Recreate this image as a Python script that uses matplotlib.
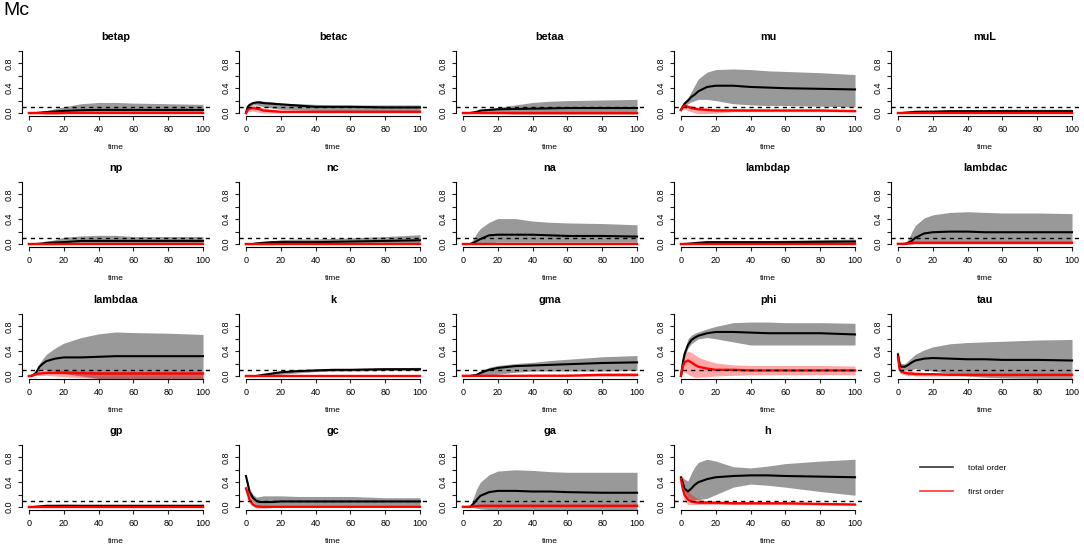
import numpy as np
import matplotlib
matplotlib.use("Agg")
import matplotlib.pyplot as plt
from matplotlib.lines import Line2D

plt.rcParams['font.family'] = ['Liberation Sans', 'DejaVu Sans']

# time grid shared by all panels
time = [0, 1, 2, 4, 6, 8, 10, 15, 20, 30, 40, 50, 60, 80, 100]

# T = total order (mean, lo, hi), F = first order (mean, lo, hi)
betap_T = [0, 0, 0, 0, 0.005, 0.01, 0.015, 0.025, 0.035, 0.045, 0.05, 0.05, 0.05, 0.05, 0.05]
betap_Tlo = [0, 0, 0, -0.005, -0.01, -0.015, -0.02, -0.02, -0.01, 0, 0, 0, 0, 0, 0]
betap_Thi = [0, 0, 0, 0.01, 0.02, 0.03, 0.04, 0.07, 0.1, 0.15, 0.17, 0.17, 0.16, 0.15, 0.14]
betap_F = [0.003] * 15
betap_Flo = [-0.005] * 15
betap_Fhi = [0.01] * 15

betac_T = [0, 0.1, 0.13, 0.16, 0.17, 0.17, 0.16, 0.15, 0.14, 0.12, 0.1, 0.1, 0.1, 0.09, 0.09]
betac_Tlo = [0, 0.08, 0.1, 0.13, 0.13, 0.12, 0.1, 0.08, 0.06, 0.05, 0.04, 0.04, 0.04, 0.04, 0.04]
betac_Thi = [0, 0.12, 0.15, 0.18, 0.2, 0.2, 0.19, 0.18, 0.16, 0.15, 0.14, 0.13, 0.13, 0.13, 0.13]
betac_F = [0, 0.05, 0.07, 0.08, 0.07, 0.06, 0.04, 0.03, 0.02, 0.02, 0.02, 0.02, 0.02, 0.02, 0.02]
betac_Flo = [0, 0.02, 0.03, 0.03, 0.02, 0.01, 0, 0, 0, 0, 0, 0, 0, 0, 0]
betac_Fhi = [0, 0.08, 0.1, 0.12, 0.12, 0.1, 0.08, 0.06, 0.04, 0.03, 0.03, 0.03, 0.03, 0.03, 0.03]

betaa_T = [0, 0, 0, 0, 0.01, 0.02, 0.04, 0.05, 0.06, 0.065, 0.07, 0.075, 0.08, 0.08, 0.08]
betaa_Tlo = [0, 0, 0, 0, -0.005, -0.005, -0.01, -0.01, -0.01, -0.02, -0.02, -0.02, -0.02, -0.02, -0.02]
betaa_Thi = [0, 0, 0, 0.01, 0.02, 0.03, 0.05, 0.07, 0.09, 0.13, 0.17, 0.19, 0.2, 0.21, 0.22]
betaa_F = [0.003] * 15
betaa_Flo = [-0.005] * 15
betaa_Fhi = [0.01] * 15

mu_T = [0.05, 0.1, 0.15, 0.2, 0.26, 0.3, 0.35, 0.42, 0.44, 0.44, 0.42, 0.41, 0.4, 0.39, 0.38]
mu_Tlo = [0.05, 0.08, 0.12, 0.15, 0.18, 0.2, 0.22, 0.22, 0.2, 0.15, 0.13, 0.12, 0.12, 0.11, 0.1]
mu_Thi = [0.05, 0.12, 0.18, 0.25, 0.35, 0.45, 0.55, 0.66, 0.7, 0.71, 0.7, 0.68, 0.67, 0.65, 0.62]
mu_F = [0.05, 0.1, 0.12, 0.1, 0.08, 0.07, 0.06, 0.05, 0.04, 0.04, 0.04, 0.04, 0.04, 0.04, 0.03]
mu_Flo = [0.05, 0.06, 0.06, 0.04, 0.02, 0.0, -0.01, -0.01, 0.0, 0.02, 0.02, 0.02, 0.02, 0.02, 0.02]
mu_Fhi = [0.05, 0.12, 0.14, 0.13, 0.12, 0.1, 0.09, 0.08, 0.07, 0.07, 0.07, 0.06, 0.06, 0.06, 0.06]

muL_T = [0, 0, 0, 0.005, 0.01, 0.015, 0.02, 0.02, 0.02, 0.03, 0.03, 0.03, 0.03, 0.03, 0.03]
muL_Tlo = [0, 0, 0, -0.005, -0.005, -0.005, -0.005, -0.005, 0, 0, 0, 0, 0, 0, 0]
muL_Thi = [0, 0, 0, 0.01, 0.02, 0.03, 0.04, 0.05, 0.05, 0.05, 0.05, 0.05, 0.06, 0.06, 0.06]
muL_F = [0.003] * 15
muL_Flo = [-0.005] * 15
muL_Fhi = [0.01] * 15

np_T = [0, 0, 0, 0, 0.005, 0.01, 0.02, 0.025, 0.03, 0.05, 0.05, 0.05, 0.05, 0.05, 0.05]
np_Tlo = [0, 0, 0, 0, -0.005, -0.01, -0.01, -0.01, -0.005, 0, 0, 0, 0, 0, 0]
np_Thi = [0, 0, 0, 0.005, 0.01, 0.02, 0.04, 0.07, 0.11, 0.13, 0.14, 0.14, 0.12, 0.12, 0.12]
np_F = [0.003] * 15
np_Flo = [-0.005] * 15
np_Fhi = [0.01] * 15

nc_T = [0, 0, 0, 0, 0.01, 0.015, 0.02, 0.03, 0.03, 0.03, 0.03, 0.035, 0.04, 0.05, 0.06]
nc_Tlo = [0, 0, 0, 0, -0.005, -0.01, -0.01, -0.01, 0, 0, 0, 0, 0, 0, 0]
nc_Thi = [0, 0, 0, 0.01, 0.02, 0.03, 0.04, 0.05, 0.07, 0.08, 0.08, 0.09, 0.1, 0.12, 0.15]
nc_F = [0.003] * 15
nc_Flo = [-0.005] * 15
nc_Fhi = [0.01] * 15

na_T = [0, 0, 0, 0, 0.02, 0.05, 0.08, 0.14, 0.15, 0.15, 0.15, 0.14, 0.13, 0.13, 0.12]
na_Tlo = [0, 0, 0, 0, 0, 0, 0.01, 0.02, 0.03, 0.03, 0.03, 0.03, 0.03, 0.03, 0.03]
na_Thi = [0, 0, 0, 0.01, 0.08, 0.18, 0.25, 0.35, 0.41, 0.41, 0.37, 0.35, 0.34, 0.33, 0.31]
na_F = [0.003] * 15
na_Flo = [-0.005] * 15
na_Fhi = [0.01] * 15

lambdap_T = [0, 0, 0, 0.005, 0.01, 0.015, 0.02, 0.03, 0.03, 0.03, 0.03, 0.03, 0.03, 0.035, 0.04]
lambdap_Tlo = [0, 0, 0, 0, 0, 0, 0, 0.005, 0.01, 0.01, 0.01, 0.01, 0.01, 0.0, 0.0]
lambdap_Thi = [0, 0, 0, 0.01, 0.02, 0.03, 0.035, 0.045, 0.05, 0.05, 0.05, 0.055, 0.06, 0.07, 0.08]
lambdap_F = [0.003] * 15
lambdap_Flo = [-0.005] * 15
lambdap_Fhi = [0.01] * 15

lambdac_T = [0, 0, 0, 0, 0.02, 0.05, 0.1, 0.17, 0.19, 0.2, 0.2, 0.19, 0.19, 0.19, 0.19]
lambdac_Tlo = [0, 0, 0, 0, 0, 0, 0.01, 0.02, 0.02, 0.02, 0.02, 0.02, 0.02, 0.02, 0.02]
lambdac_Thi = [0, 0, 0, 0.01, 0.08, 0.2, 0.3, 0.42, 0.47, 0.51, 0.52, 0.51, 0.5, 0.5, 0.49]
lambdac_F = [0.003, 0.003, 0.003, 0.005, 0.01, 0.015, 0.02, 0.02, 0.02, 0.02, 0.02, 0.02, 0.02, 0.02, 0.02]
lambdac_Flo = [-0.005, -0.005, -0.005, -0.005, 0, 0, 0, 0, 0, 0, 0, 0, 0, 0, 0]
lambdac_Fhi = [0.01, 0.01, 0.01, 0.01, 0.02, 0.03, 0.03, 0.03, 0.03, 0.03, 0.03, 0.03, 0.03, 0.03, 0.03]

lambdaa_T = [0, 0, 0.01, 0.05, 0.15, 0.2, 0.24, 0.28, 0.3, 0.3, 0.31, 0.32, 0.32, 0.32, 0.32]
lambdaa_Tlo = [0, 0, 0, 0.02, 0.08, 0.1, 0.1, 0.08, 0.04, 0.0, -0.04, -0.04, -0.04, -0.04, -0.04]
lambdaa_Thi = [0, 0, 0.01, 0.08, 0.2, 0.28, 0.35, 0.45, 0.53, 0.62, 0.68, 0.71, 0.7, 0.69, 0.67]
lambdaa_F = [0, 0, 0.01, 0.03, 0.04, 0.045, 0.05, 0.05, 0.05, 0.045, 0.04, 0.04, 0.04, 0.04, 0.04]
lambdaa_Flo = [0, 0, 0, 0.01, 0.01, 0.01, 0.01, 0.0, -0.01, -0.03, -0.04, -0.04, -0.04, -0.04, -0.04]
lambdaa_Fhi = [0, 0, 0.02, 0.05, 0.07, 0.09, 0.1, 0.1, 0.09, 0.08, 0.07, 0.07, 0.07, 0.07, 0.07]

k_T = [0, 0, 0, 0, 0, 0.01, 0.02, 0.04, 0.06, 0.08, 0.09, 0.1, 0.1, 0.11, 0.11]
k_Tlo = [0, 0, 0, 0, 0, 0, 0, 0.01, 0.03, 0.05, 0.07, 0.08, 0.08, 0.09, 0.09]
k_Thi = [0, 0, 0, 0, 0.005, 0.02, 0.03, 0.06, 0.08, 0.1, 0.11, 0.12, 0.12, 0.13, 0.14]
k_F = [0.003] * 15
k_Flo = [-0.005] * 15
k_Fhi = [0.01] * 15

gma_T = [0, 0, 0, 0, 0.01, 0.02, 0.05, 0.1, 0.13, 0.16, 0.17, 0.18, 0.19, 0.21, 0.22]
gma_Tlo = [0, 0, 0, 0, 0, -0.005, -0.01, 0.0, 0.03, 0.06, 0.08, 0.08, 0.08, 0.08, 0.09]
gma_Thi = [0, 0, 0, 0, 0.02, 0.04, 0.08, 0.14, 0.17, 0.2, 0.22, 0.25, 0.27, 0.31, 0.33]
gma_F = [0.003, 0.003, 0.003, 0.003, 0.003, 0.003, 0.003, 0.003, 0.003, 0.003, 0.005, 0.005, 0.005, 0.02, 0.02]
gma_Flo = [-0.005] * 15
gma_Fhi = [0.01, 0.01, 0.01, 0.01, 0.01, 0.01, 0.01, 0.01, 0.01, 0.01, 0.01, 0.01, 0.01, 0.03, 0.03]

phi_T = [0, 0.2, 0.35, 0.5, 0.58, 0.62, 0.65, 0.69, 0.71, 0.71, 0.7, 0.69, 0.69, 0.69, 0.67]
phi_Tlo = [0, 0.18, 0.3, 0.45, 0.52, 0.56, 0.6, 0.62, 0.6, 0.55, 0.5, 0.5, 0.5, 0.5, 0.5]
phi_Thi = [0, 0.22, 0.4, 0.6, 0.66, 0.69, 0.71, 0.76, 0.8, 0.86, 0.87, 0.87, 0.86, 0.86, 0.85]
phi_F = [0, 0.15, 0.22, 0.25, 0.22, 0.18, 0.15, 0.12, 0.1, 0.1, 0.09, 0.09, 0.09, 0.09, 0.09]
phi_Flo = [0, 0.08, 0.06, 0.03, 0.0, -0.02, -0.02, -0.01, 0.0, 0.01, 0.02, 0.02, 0.02, 0.02, 0.02]
phi_Fhi = [0, 0.2, 0.35, 0.4, 0.38, 0.34, 0.3, 0.25, 0.21, 0.18, 0.17, 0.17, 0.17, 0.17, 0.16]

tau_T = [0.35, 0.18, 0.15, 0.15, 0.18, 0.22, 0.25, 0.28, 0.29, 0.28, 0.27, 0.27, 0.26, 0.26, 0.25]
tau_Tlo = [0.3, 0.14, 0.1, 0.1, 0.1, 0.1, 0.12, 0.1, 0.08, 0.04, 0.0, -0.02, -0.03, -0.04, -0.04]
tau_Thi = [0.42, 0.25, 0.2, 0.2, 0.25, 0.3, 0.35, 0.42, 0.47, 0.52, 0.54, 0.55, 0.56, 0.58, 0.59]
tau_F = [0.3, 0.1, 0.07, 0.05, 0.04, 0.04, 0.03, 0.03, 0.03, 0.02, 0.02, 0.02, 0.02, 0.02, 0.02]
tau_Flo = [0.25, 0.05, 0.03, 0.02, 0.01, 0.01, 0.0, 0.0, 0.0, 0.0, 0.0, 0.0, 0.0, 0.0, 0.0]
tau_Fhi = [0.35, 0.15, 0.12, 0.1, 0.09, 0.08, 0.07, 0.06, 0.05, 0.04, 0.04, 0.04, 0.04, 0.04, 0.04]

gp_T = [0, 0, 0, 0.005, 0.01, 0.015, 0.02, 0.02, 0.02, 0.02, 0.02, 0.02, 0.02, 0.02, 0.02]
gp_Tlo = [0, 0, 0, 0, -0.005, -0.005, -0.005, -0.005, 0, 0, 0, 0, 0, 0, 0]
gp_Thi = [0, 0, 0, 0.01, 0.02, 0.03, 0.04, 0.04, 0.045, 0.04, 0.03, 0.03, 0.03, 0.03, 0.03]
gp_F = [0.003] * 15
gp_Flo = [-0.005] * 15
gp_Fhi = [0.01] * 15

gc_T = [0.5, 0.38, 0.25, 0.15, 0.1, 0.08, 0.08, 0.08, 0.09, 0.09, 0.09, 0.09, 0.09, 0.09, 0.09]
gc_Tlo = [0.45, 0.3, 0.18, 0.08, 0.03, 0.02, 0.02, 0.02, 0.02, 0.02, 0.02, 0.02, 0.02, 0.02, 0.02]
gc_Thi = [0.5, 0.42, 0.3, 0.2, 0.16, 0.17, 0.18, 0.18, 0.18, 0.17, 0.17, 0.17, 0.17, 0.15, 0.15]
gc_F = [0.3, 0.22, 0.12, 0.04, 0.01, 0.005, 0.003, 0.003, 0.003, 0.003, 0.003, 0.003, 0.003, 0.003, 0.003]
gc_Flo = [0.22, 0.15, 0.06, 0.01, -0.02, -0.02, -0.02, -0.01, 0, 0, 0, 0, 0, 0, 0]
gc_Fhi = [0.35, 0.28, 0.2, 0.08, 0.03, 0.01, 0.01, 0.01, 0.01, 0.01, 0.01, 0.01, 0.01, 0.01, 0.01]

ga_T = [0, 0, 0, 0, 0.05, 0.12, 0.18, 0.24, 0.26, 0.26, 0.25, 0.25, 0.24, 0.23, 0.23]
ga_Tlo = [0, 0, 0, 0, -0.01, -0.02, -0.03, -0.04, -0.04, -0.04, -0.04, -0.04, -0.04, -0.04, -0.04]
ga_Thi = [0, 0, 0, 0.02, 0.15, 0.3, 0.4, 0.52, 0.58, 0.6, 0.59, 0.57, 0.56, 0.56, 0.56]
ga_F = [0.003, 0.003, 0.003, 0.005, 0.01, 0.015, 0.02, 0.02, 0.02, 0.02, 0.02, 0.02, 0.02, 0.02, 0.02]
ga_Flo = [-0.005, -0.005, -0.005, 0, 0, 0, 0, 0, 0, 0, 0, 0, 0, 0, 0]
ga_Fhi = [0.01, 0.01, 0.01, 0.01, 0.02, 0.03, 0.04, 0.04, 0.04, 0.04, 0.04, 0.04, 0.04, 0.04, 0.04]

h_T = [0.48, 0.4, 0.3, 0.25, 0.3, 0.36, 0.4, 0.45, 0.48, 0.5, 0.51, 0.51, 0.5, 0.49, 0.48]
h_Tlo = [0.45, 0.35, 0.25, 0.15, 0.12, 0.12, 0.12, 0.14, 0.2, 0.32, 0.37, 0.35, 0.32, 0.25, 0.19]
h_Thi = [0.5, 0.48, 0.45, 0.42, 0.55, 0.65, 0.72, 0.77, 0.74, 0.65, 0.63, 0.66, 0.7, 0.74, 0.77]
h_F = [0.45, 0.3, 0.2, 0.12, 0.09, 0.08, 0.07, 0.07, 0.07, 0.06, 0.06, 0.06, 0.06, 0.05, 0.04]
h_Flo = [0.4, 0.2, 0.1, 0.04, 0.04, 0.04, 0.04, 0.04, 0.04, 0.04, 0.04, 0.04, 0.04, 0.03, 0.03]
h_Fhi = [0.48, 0.35, 0.3, 0.25, 0.2, 0.16, 0.13, 0.1, 0.08, 0.08, 0.07, 0.07, 0.07, 0.06, 0.05]

params = ['betap', 'betac', 'betaa', 'mu', 'muL',
          'np', 'nc', 'na', 'lambdap', 'lambdac',
          'lambdaa', 'k', 'gma', 'phi', 'tau',
          'gp', 'gc', 'ga', 'h']

threshold = 0.1

series = {}
g = globals()
for p in params:
    series[p] = [g[p + s] for s in ['_T', '_Tlo', '_Thi', '_F', '_Flo', '_Fhi']]

W, H = 1084, 548
fig = plt.figure(figsize=(W / 100, H / 100), dpi=100)

col_left = [22, 239, 456, 674, 891]   # pixel positions of panel left edges
row_zero = [113, 244, 376, 507]       # pixel row of y = 0 in each row
aw, ah = 188, 67

for i, p in enumerate(params):
    r, c = divmod(i, 5)
    left = col_left[c] / W
    bottom = 1 - (row_zero[r] + 2.5) / H
    ax = fig.add_axes([left, bottom, aw / W, ah / H])
    T, Tlo, Thi, F, Flo, Fhi = series[p]
    ax.fill_between(time, Tlo, Thi, color='#999999', lw=0)
    ax.fill_between(time, Flo, Fhi, color='red', alpha=0.35, lw=0)
    ax.plot(time, T, color='black', lw=1.5)
    ax.plot(time, F, color='red', lw=1.7)
    ax.axhline(threshold, color='black', ls=(0, (3, 3)), lw=1.0)
    ax.set_xlim(-4, 104)
    ax.set_ylim(-0.04, 1.04)
    for s in ['top', 'right']:
        ax.spines[s].set_visible(False)
    ax.spines['left'].set_bounds(0, 1)
    ax.spines['bottom'].set_bounds(0, 100)
    ax.spines['left'].set_linewidth(0.8)
    ax.spines['bottom'].set_linewidth(0.8)
    ax.set_xticks([0, 20, 40, 60, 80, 100])
    ax.set_yticks([0, 0.2, 0.4, 0.6, 0.8, 1.0])
    ax.set_yticklabels(['0.0', '', '0.4', '', '0.8', ''])
    ax.tick_params(axis='both', length=3, width=0.8, labelsize=6.5, color='#222222')
    ax.tick_params(axis='y', pad=3)
    ax.tick_params(axis='x', pad=4)
    for lab in ax.get_yticklabels():
        lab.set_rotation(90)
        lab.set_va('center')
    ax.set_title(p, fontsize=7.8, fontweight='bold', pad=6)
    ax.set_xlabel('time', fontsize=6, labelpad=7)

fig.text(3 / W, 1 - 2 / H, 'Mc', fontsize=14, ha='left', va='top')

handles = [Line2D([], [], color='#333333', lw=1.2),
           Line2D([], [], color='#ff3333', lw=1.2)]
fig.legend(handles, ['total order', 'first order'],
           loc='upper left', bbox_to_anchor=(920 / W, 1 - 464 / H),
           frameon=False, fontsize=6, handlelength=3.9, handletextpad=1.8,
           labelspacing=1.9, borderpad=0, borderaxespad=0)

fig.savefig('out.png', dpi=100)
